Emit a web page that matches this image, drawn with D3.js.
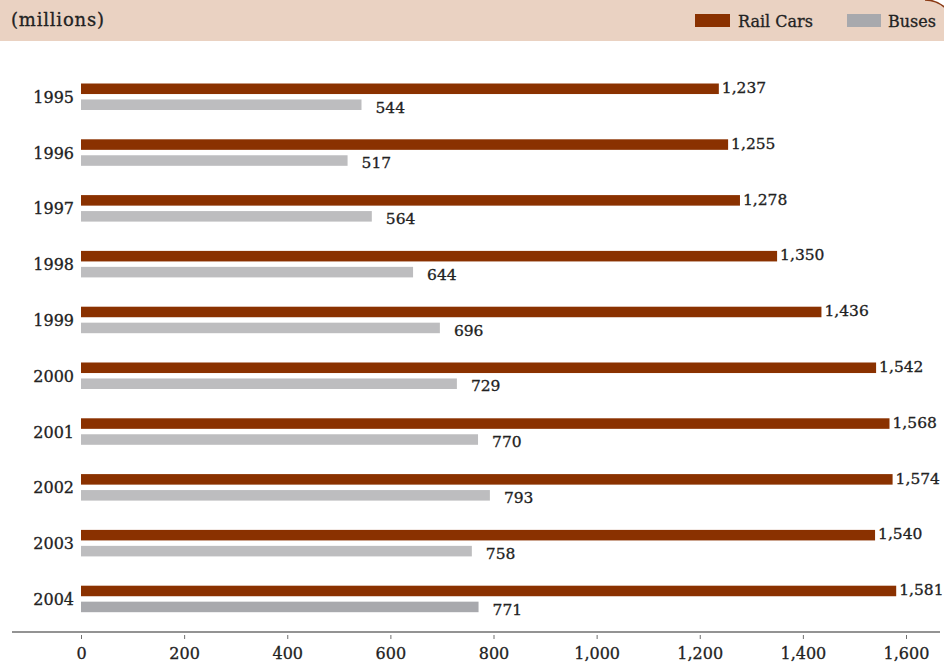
<!DOCTYPE html>
<html>
<head>
<meta charset="utf-8">
<script src="https://cdn.jsdelivr.net/npm/d3@7"></script>
<style>
  html, body { margin: 0; padding: 0; background: #fff; }
  svg { display: block; }
  text { font-family: "DejaVu Serif", serif; fill: #222; stroke: #222; stroke-width: 0.3px; }
</style>
</head>
<body>
<svg id="chart" width="944" height="672"></svg>
<script>
// Annual ridership (millions)
const years = ["1995", "1996", "1997", "1998", "1999", "2000", "2001", "2002", "2003", "2004"];
const railCars = [1237, 1255, 1278, 1350, 1436, 1542, 1568, 1574, 1540, 1581];
const buses = [544, 517, 564, 644, 696, 729, 770, 793, 758, 771];
const seriesNames = ["Rail Cars", "Buses"];
const xTicks = [0, 200, 400, 600, 800, 1000, 1200, 1400, 1600];

const colors = { rail: "#8a3100", bus: "#bdbdbf", busLatest: "#a8a9ad" };
const fmt = d3.format(",");

const svg = d3.select("#chart");

// Header band with rounded top-right corner
const bandH = 41, r = 30, bx = 955;
svg.append("path")
  .attr("d", `M0,0 H${bx - r} A${r},${r} 0 0 1 ${bx},${r} V${bandH} H0 Z`)
  .attr("fill", "#ead2c2");
svg.append("path")
  .attr("d", `M${bx - r},0 A${r},${r} 0 0 1 ${bx},${r}`)
  .attr("fill", "none")
  .attr("stroke", "#8a3a14")
  .attr("stroke-width", 1.6);

svg.append("text")
  .attr("x", 11).attr("y", 26)
  .attr("font-size", 18)
  .attr("letter-spacing", 0.8)
  .text("(millions)");

// Legend
const legend = [
  { name: seriesNames[0], color: colors.rail, x: 695, w: 35, tx: 738 },
  { name: seriesNames[1], color: colors.busLatest, x: 847, w: 34, tx: 888 }
];
legend.forEach(l => {
  svg.append("rect").attr("x", l.x).attr("y", 14).attr("width", l.w).attr("height", 13).attr("fill", l.color);
  svg.append("text").attr("x", l.tx).attr("y", 27).attr("font-size", 16).text(l.name);
});

// Scales
const x = d3.scaleLinear().domain([0, 1600]).range([81, 906]);
const y = d3.scaleBand().domain(years).range([83.5, 612.2]).paddingInner(0.525).paddingOuter(0);
const sub = d3.scaleBand().domain(["rail", "bus"]).range([0, y.bandwidth()]).paddingInner(0.34);

const rows = years.map((yr, i) => ({ year: yr, rail: railCars[i], bus: buses[i], latest: i === years.length - 1 }));

const row = svg.append("g").selectAll("g.row").data(rows).join("g")
  .attr("class", "row")
  .attr("transform", d => `translate(0,${y(d.year)})`);

// Year labels
row.append("text")
  .attr("x", 74)
  .attr("y", y.bandwidth() / 2 + 6)
  .attr("text-anchor", "end")
  .attr("font-size", 16)
  .text(d => d.year);

// Rail car bars + values
row.append("rect")
  .attr("x", x(0))
  .attr("y", sub("rail"))
  .attr("width", d => x(d.rail) - x(0))
  .attr("height", sub.bandwidth())
  .attr("fill", colors.rail);
row.append("text")
  .attr("x", d => x(d.rail) + 3)
  .attr("y", sub("rail") + sub.bandwidth() - 1)
  .attr("font-size", 15.5)
  .text(d => fmt(d.rail));

// Bus bars + values
row.append("rect")
  .attr("x", x(0))
  .attr("y", sub("bus"))
  .attr("width", d => x(d.bus) - x(0))
  .attr("height", sub.bandwidth())
  .attr("fill", d => d.latest ? colors.busLatest : colors.bus);
row.append("text")
  .attr("x", d => x(d.bus) + 14)
  .attr("y", sub("bus") + sub.bandwidth() + 2.5)
  .attr("font-size", 15.5)
  .text(d => fmt(d.bus));

// X axis
const axisY = 632;
svg.append("line")
  .attr("x1", 12).attr("x2", 940)
  .attr("y1", axisY).attr("y2", axisY)
  .attr("stroke", "#6f6f6f").attr("stroke-width", 1.3);

const axis = d3.axisBottom(x).tickValues(xTicks).tickSize(4).tickPadding(9).tickFormat(fmt);
const ax = svg.append("g").attr("transform", `translate(0,${axisY + 3})`).call(axis);
ax.select(".domain").remove();
ax.selectAll(".tick line").attr("stroke", "#6f6f6f");
ax.selectAll(".tick text")
  .attr("font-family", "DejaVu Serif, serif")
  .attr("font-size", 16)
  .attr("fill", "#222");
</script>
</body>
</html>
